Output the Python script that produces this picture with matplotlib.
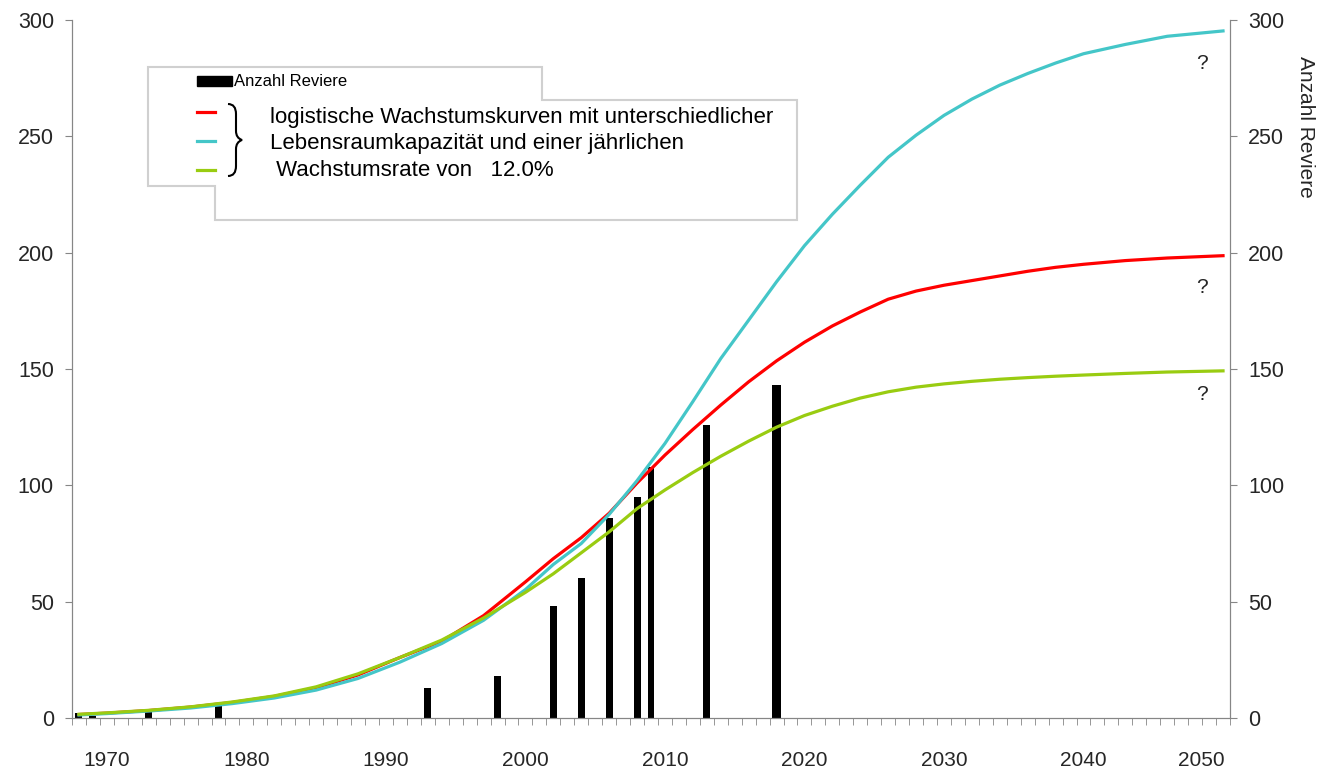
import numpy as np
import matplotlib
matplotlib.use("Agg")
import matplotlib.pyplot as plt
import matplotlib.transforms as mtransforms
from matplotlib.path import Path
from matplotlib.patches import PathPatch, Rectangle, Polygon
from matplotlib.lines import Line2D

plt.rcParams['font.family'] = ['Liberation Sans', 'DejaVu Sans']

# observed territories (bars)
bar_years = [1968, 1969, 1973, 1978, 1993, 1998, 2002, 2004, 2006, 2008, 2009, 2013, 2018]
bar_counts = [2, 1, 3, 5, 13, 18, 48, 60, 86, 95, 108, 126, 143]

# logistic growth curves
years = [1968, 1970, 1973, 1976, 1979, 1982, 1985, 1988, 1991, 1994, 1997,
         2000, 2002, 2004, 2006, 2008, 2010, 2012, 2014, 2016, 2018, 2020,
         2022, 2024, 2026, 2028, 2030, 2032, 2034, 2036, 2038, 2040, 2043, 2046, 2050]
k200 = [1.5, 2.1, 3.2, 4.7, 6.7, 9.3, 13.0, 18.5, 26.0, 33.0, 44.0,
        58.5, 68.5, 77.5, 88.0, 101.0, 113.0, 124.0, 134.5, 144.5, 153.5, 161.5,
        168.5, 174.5, 180.0, 183.5, 186.0, 188.0, 190.0, 192.0, 193.7, 195.0, 196.6, 197.7, 198.7]
k300 = [1.3, 1.9, 3.0, 4.3, 6.2, 8.6, 12.0, 17.0, 24.0, 32.0, 42.0,
        55.2, 66.0, 75.0, 87.5, 102.0, 118.0, 136.0, 154.5, 171.0, 187.5, 203.0,
        216.5, 229.0, 241.0, 250.5, 259.0, 266.0, 272.0, 277.0, 281.5, 285.5, 289.5, 293.0, 295.3]
k150 = [1.6, 2.2, 3.3, 4.8, 6.9, 9.5, 13.4, 19.0, 26.0, 33.5, 43.0,
        54.0, 62.0, 71.0, 80.0, 90.0, 98.0, 105.5, 112.5, 119.0, 125.0, 130.0,
        134.0, 137.5, 140.2, 142.2, 143.6, 144.7, 145.6, 146.3, 146.9, 147.4, 148.1, 148.7, 149.2]

# "?" marks under the line ends
q_year = 2048.5
q_values = [281.5, 185, 139]

legend_bar = "Anzahl Reviere"
legend_lines = ["logistische Wachstumskurven mit unterschiedlicher",
                "Lebensraumkapazität und einer jährlichen",
                " Wachstumsrate von   12.0%"]

W, H = 1323, 774
fig = plt.figure(figsize=(W / 100, H / 100), dpi=100)
ax = fig.add_axes([72 / W, 1 - 718 / H, (1230 - 72) / W, (718 - 20) / H])

txt = '#262626'
grey = '#868686'
red, cyan, green = '#ff0000', '#44c6c8', '#99cc11'

widths = [0.7 if y == 2018 else 0.5 for y in bar_years]
ax.bar(bar_years, bar_counts, width=widths, color='black', zorder=2)
ax.plot(years, k200, color=red, lw=2.3, zorder=3)
ax.plot(years, k300, color=cyan, lw=2.3, zorder=3)
ax.plot(years, k150, color=green, lw=2.3, zorder=4)

ax.set_xlim(1967.5, 2050.5)
ax.set_ylim(0, 300)
ax.set_yticks(range(0, 301, 50))
ax.set_xticks(range(1970, 2051, 10))
ax.set_xticks(np.arange(1967.5, 2051, 1), minor=True)
ax.tick_params(axis='y', direction='out', length=5, color=grey, labelsize=15.5,
               labelcolor=txt, pad=8)
ax.tick_params(axis='x', which='major', length=0, labelsize=15, labelcolor=txt, pad=24)
ax.tick_params(axis='x', which='minor', length=5, color=grey)
ax.spines['top'].set_visible(False)
for s in ['left', 'right', 'bottom']:
    ax.spines[s].set_color(grey)

# last year label sits pulled in from the edge
fig.canvas.draw()
last = ax.get_xticklabels()[-1]
last.set_transform(last.get_transform() +
                   mtransforms.ScaledTranslation(-0.22, 0, fig.dpi_scale_trans))

ax2 = ax.twinx()
ax2.set_ylim(0, 300)
ax2.set_yticks(range(0, 301, 50))
ax2.tick_params(axis='y', direction='out', length=5, color=grey, labelsize=15.5,
                labelcolor=txt, pad=8)
ax2.spines['top'].set_visible(False)
for s in ['left', 'right', 'bottom']:
    ax2.spines[s].set_color(grey)
ax2.set_ylabel("Anzahl Reviere", rotation=270, fontsize=15, color=txt)
ax2.yaxis.set_label_coords(1.073, 0.847)

for yv in q_values:
    ax.text(q_year, yv, '?', fontsize=15, color=txt, ha='center', va='center')

# legend drawn in pixel coordinates
px = mtransforms.Affine2D().scale(1 / W, -1 / H).translate(0, 1) + fig.transFigure
box = Polygon([(148, 67), (542, 67), (542, 100), (797, 100), (797, 220),
               (215, 220), (215, 186), (148, 186)], closed=True,
              facecolor='white', edgecolor='#d0d0d0', lw=1.5, transform=px)
fig.add_artist(box)
fig.add_artist(Rectangle((197, 76), 35, 10, color='black', transform=px))
fig.text(234 / W, 1 - 81 / H, legend_bar, fontsize=12, color='black', va='center')
for yy, c in zip([112, 141, 170], [red, cyan, green]):
    fig.add_artist(Line2D([197, 215], [yy, yy], color=c, lw=2.3, transform=px))
brace = Path([(228, 104), (236, 104), (236, 114), (236, 131), (236, 138), (242, 140),
              (236, 142), (236, 149), (236, 166), (236, 176), (228, 176)],
             [Path.MOVETO, Path.CURVE3, Path.CURVE3, Path.LINETO, Path.CURVE3, Path.CURVE3,
              Path.CURVE3, Path.CURVE3, Path.LINETO, Path.CURVE3, Path.CURVE3])
fig.add_artist(PathPatch(brace, fill=False, lw=1.5, edgecolor='black', transform=px))
for yy, t in zip([117, 144, 170], legend_lines):
    fig.text(270 / W, 1 - yy / H, t, fontsize=16, color='black', va='center')

fig.savefig("out.png", dpi=100)
